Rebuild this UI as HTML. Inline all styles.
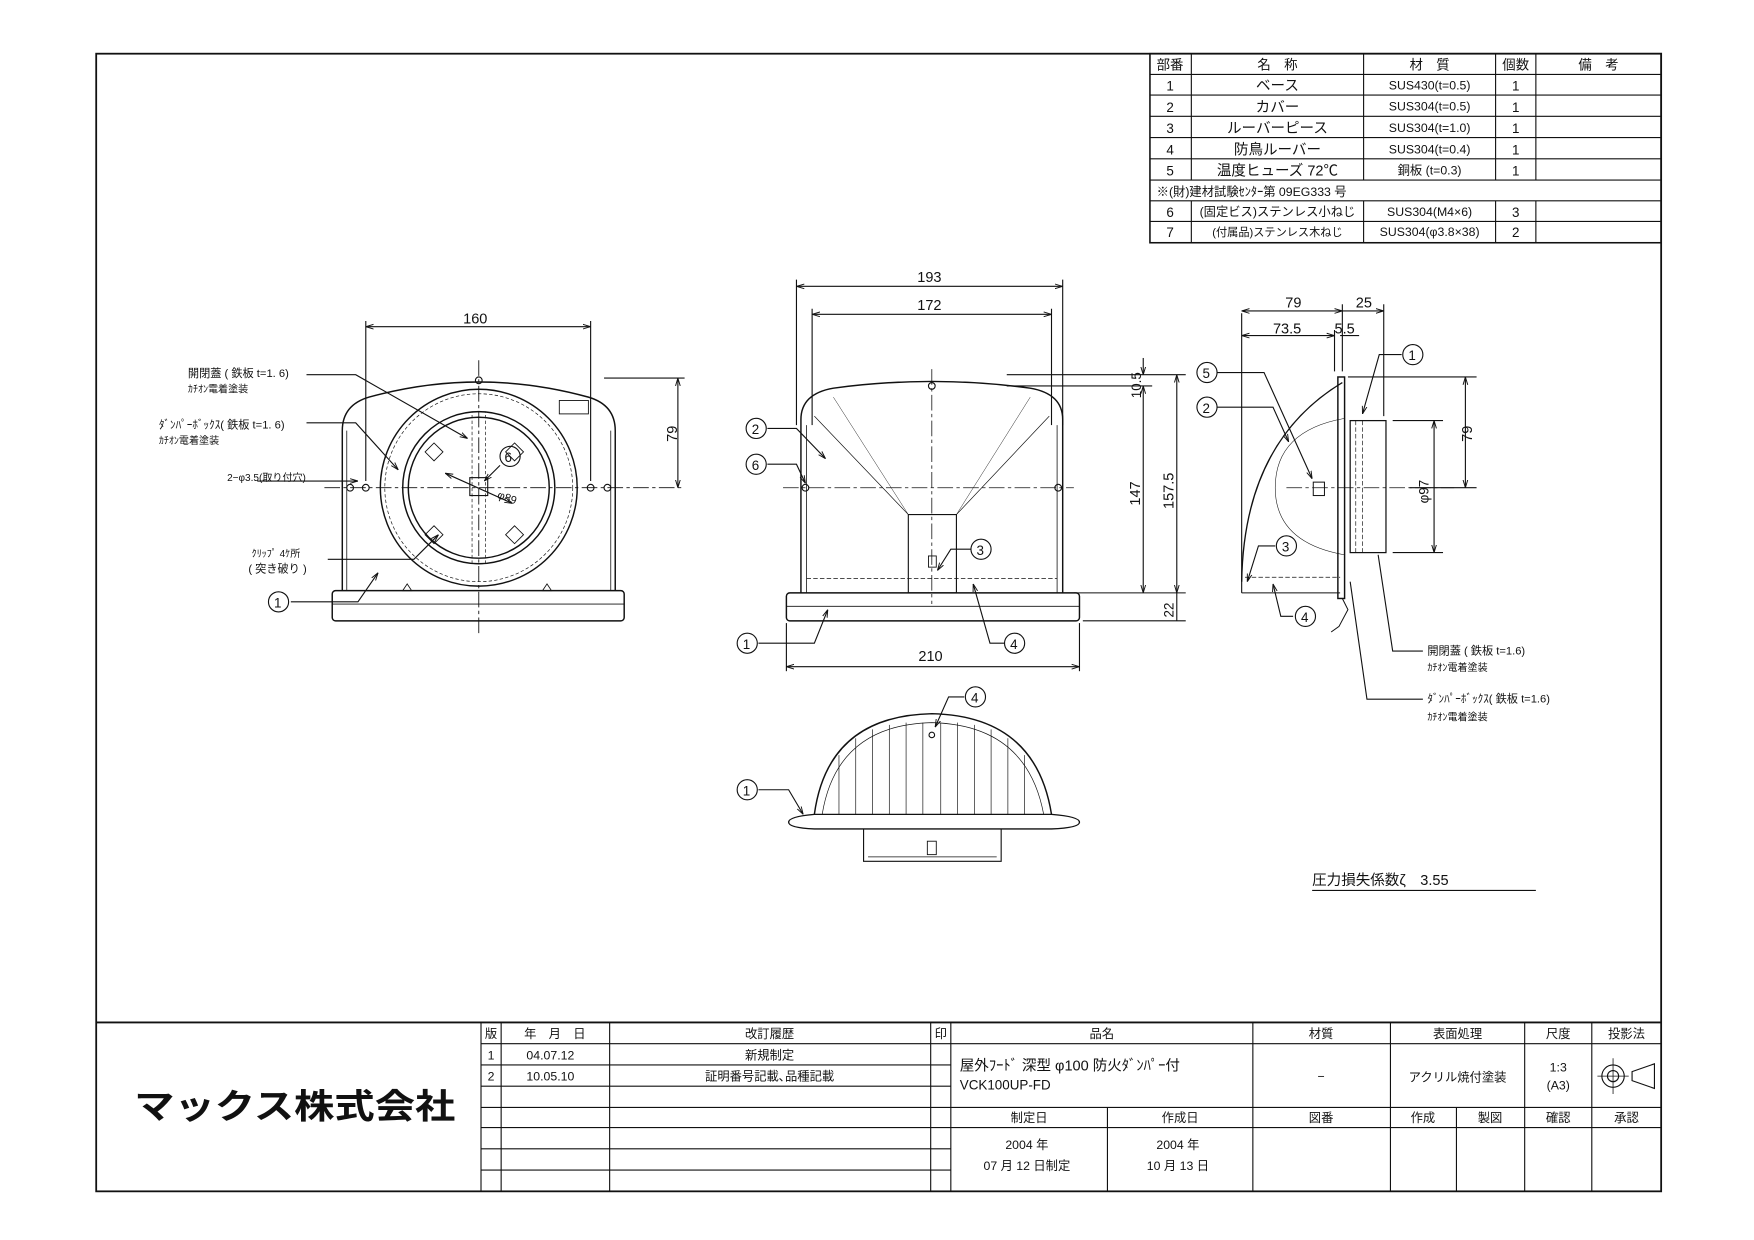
<!DOCTYPE html>
<html><head><meta charset="utf-8"><style>
html,body{margin:0;padding:0;background:#fff;}
svg{display:block;}
text{font-family:"Liberation Sans","Noto Sans CJK JP",sans-serif;fill:#111;}
</style></head><body>
<svg width="1754" height="1240" viewBox="0 0 1568 1108.5" preserveAspectRatio="none" xmlns="http://www.w3.org/2000/svg">
<defs>
<marker id="a" viewBox="0 0 10 10" refX="10" refY="5" markerWidth="7" markerHeight="7" orient="auto-start-reverse"><path d="M0,2 L10,5 L0,8" fill="none" stroke="#111" stroke-width="1.2"/></marker>
</defs>
<g fill="none" stroke="#111">
<rect x="86" y="48" width="1399" height="1017" stroke-width="1.6"/>
<rect x="1028" y="48" width="457" height="169" stroke-width="1.4"/>
<g stroke-width="1">
<line x1="1028" y1="66.5" x2="1485" y2="66.5"/><line x1="1028" y1="85" x2="1485" y2="85"/>
<line x1="1028" y1="104" x2="1485" y2="104"/><line x1="1028" y1="123" x2="1485" y2="123"/>
<line x1="1028" y1="142" x2="1485" y2="142"/><line x1="1028" y1="161" x2="1485" y2="161"/>
<line x1="1028" y1="179.5" x2="1485" y2="179.5"/><line x1="1028" y1="198" x2="1485" y2="198"/>
<line x1="1065" y1="48" x2="1065" y2="161"/><line x1="1219" y1="48" x2="1219" y2="161"/>
<line x1="1337" y1="48" x2="1337" y2="161"/><line x1="1373" y1="48" x2="1373" y2="161"/>
<line x1="1065" y1="179.5" x2="1065" y2="217"/><line x1="1219" y1="179.5" x2="1219" y2="217"/>
<line x1="1337" y1="179.5" x2="1337" y2="217"/><line x1="1373" y1="179.5" x2="1373" y2="217"/>
</g>
<line x1="86" y1="914" x2="1485" y2="914" stroke-width="1.6"/>
<g stroke-width="1">
<line x1="430" y1="914" x2="430" y2="1065"/><line x1="448" y1="914" x2="448" y2="1065"/>
<line x1="545" y1="914" x2="545" y2="1065"/><line x1="832" y1="914" x2="832" y2="1065"/>
<line x1="850" y1="914" x2="850" y2="1065"/>
<line x1="430" y1="933" x2="850" y2="933"/><line x1="430" y1="952" x2="850" y2="952"/>
<line x1="430" y1="971" x2="850" y2="971"/><line x1="430" y1="990" x2="1485" y2="990"/>
<line x1="430" y1="1008" x2="1485" y2="1008"/><line x1="430" y1="1027" x2="850" y2="1027"/>
<line x1="430" y1="1046" x2="850" y2="1046"/>
<line x1="850" y1="933" x2="1485" y2="933"/>
<line x1="1120" y1="914" x2="1120" y2="1065"/><line x1="1243" y1="914" x2="1243" y2="1065"/>
<line x1="1363" y1="914" x2="1363" y2="1065"/><line x1="1423" y1="914" x2="1423" y2="1065"/>
<line x1="990" y1="990" x2="990" y2="1065"/><line x1="1302" y1="990" x2="1302" y2="1065"/>
</g>
<circle cx="1442" cy="962" r="10" stroke-width="1"/><circle cx="1442" cy="962" r="5" stroke-width="1"/>
<line x1="1428" y1="962" x2="1456" y2="962" stroke-width="0.7"/><line x1="1442" y1="946" x2="1442" y2="978" stroke-width="0.7"/>
<path d="M1459,958 L1479,951 L1479,973 L1459,966 Z" stroke-width="1"/>
<line x1="1173" y1="796" x2="1373" y2="796" stroke-width="1"/>
</g>

<!-- LEFT VIEW -->
<g fill="none" stroke="#111" stroke-width="1">
<path d="M306,528 L306,385 Q306,362 330,355 Q428,328 526,355 Q550,362 550,385 L550,528" stroke-width="1.3"/>
<path d="M310,528 L310,385 M546,385 L546,528" stroke-width="0.7"/>
<rect x="297" y="528" width="261" height="27" rx="3" stroke-width="1.3"/>
<line x1="297" y1="540" x2="558" y2="540" stroke-width="0.7"/>
<circle cx="428" cy="436" r="88" stroke-width="1.3"/>
<circle cx="428" cy="436" r="84" stroke-width="0.6" stroke-dasharray="3,2"/>
<circle cx="428" cy="436" r="68" stroke-width="1.3"/>
<circle cx="428" cy="436" r="63" stroke-width="1.3"/>
<rect x="422" y="368" width="12" height="136" stroke-width="0.6" stroke-dasharray="3,2"/>
<rect x="420" y="427" width="16" height="16" stroke-width="1"/>
<path d="M380,404 l8,-8 l8,8 l-8,8z M460,396 l8,8 l-8,8 l-8,-8z M380,478 l8,-8 l8,8 l-8,8z M460,470 l8,8 l-8,8 l-8,-8z" stroke-width="0.8"/>
<rect x="500" y="358" width="26" height="12" stroke-width="0.8"/>
<path d="M360,528 l4,-6 l4,6z M485,528 l4,-6 l4,6z" stroke-width="0.8"/>
<line x1="428" y1="322" x2="428" y2="568" stroke-dasharray="14,3,3,3" stroke-width="0.8"/>
<line x1="290" y1="436" x2="612" y2="436" stroke-dasharray="14,3,3,3" stroke-width="0.8"/>
<circle cx="313" cy="436" r="3"/><circle cx="327" cy="436" r="3"/><circle cx="528" cy="436" r="3"/><circle cx="543" cy="436" r="3"/>
<circle cx="428" cy="340" r="3"/>
<line x1="327" y1="287" x2="327" y2="430"/><line x1="528" y1="287" x2="528" y2="430"/>
<line x1="327" y1="292" x2="528" y2="292" marker-start="url(#a)" marker-end="url(#a)"/>
<line x1="540" y1="338" x2="612" y2="338"/>
<line x1="606" y1="338" x2="606" y2="436" marker-start="url(#a)" marker-end="url(#a)"/>
<line x1="398" y1="423" x2="458" y2="450" marker-start="url(#a)" marker-end="url(#a)"/>
<path d="M274,335 L318,335 L418,392" marker-end="url(#a)"/>
<path d="M274,378 L318,378 L356,420" marker-end="url(#a)"/>
<path d="M230,430 L320,430" marker-end="url(#a)"/>
<path d="M293,500 L370,500 L392,478" marker-end="url(#a)"/>
<path d="M260,538 L320,538 L338,512" marker-end="url(#a)"/>
<path d="M447,416 L433,430" marker-end="url(#a)"/>
<circle cx="456" cy="408" r="9"/><circle cx="249" cy="538" r="9"/>
</g>
<g font-size="10">
<text x="168" y="337">開閉蓋 ( 鉄板 t=1. 6)</text>
<text x="168" y="351" font-size="9">ｶﾁｵﾝ電着塗装</text>
<text x="142" y="383">ﾀﾞﾝﾊﾟｰﾎﾞｯｸｽ( 鉄板 t=1. 6)</text>
<text x="142" y="397" font-size="9">ｶﾁｵﾝ電着塗装</text>
<text x="203" y="430" font-size="9">2−φ3.5(取り付穴)</text>
<text x="225" y="498" font-size="9">ｸﾘｯﾌﾟ 4ｹ所</text>
<text x="222" y="512">( 突き破り )</text>
<text x="451" y="413" font-size="12">6</text><text x="245" y="543" font-size="12">1</text>
<text x="444" y="445" font-size="10" transform="rotate(20 444 445)">φ89</text>
<text x="414" y="289" font-size="13">160</text>
<text x="605" y="395" font-size="13" transform="rotate(-90 605 395)">79</text>
</g>

<!-- MIDDLE VIEW -->
<g fill="none" stroke="#111" stroke-width="1">
<path d="M716,530 L716,375 Q716,352 745,347 Q833,335 921,347 Q950,352 950,375 L950,530" stroke-width="1.3"/>
<path d="M721,380 L721,530 M945,380 L945,530" stroke-width="0.7"/>
<rect x="703" y="530" width="262" height="25" rx="3" stroke-width="1.3"/>
<line x1="703" y1="542" x2="965" y2="542" stroke-width="0.7"/>
<path d="M728,372 L812,460 M938,372 L855,460" stroke-width="0.6"/>
<path d="M745,355 L812,460 M921,355 L855,460" stroke-width="0.4"/>
<rect x="812" y="460" width="43" height="70" stroke-width="1"/>
<line x1="721" y1="517" x2="945" y2="517" stroke-dasharray="4,2" stroke-width="0.7"/>
<line x1="833" y1="330" x2="833" y2="540" stroke-dasharray="14,3,3,3" stroke-width="0.7"/>
<line x1="700" y1="436" x2="960" y2="436" stroke-dasharray="14,3,3,3" stroke-width="0.7"/>
<circle cx="720" cy="436" r="3"/><circle cx="946" cy="436" r="3"/><circle cx="833" cy="345" r="3"/>
<rect x="830" y="497" width="7" height="10" stroke-width="0.8"/>
<line x1="712" y1="250" x2="712" y2="380"/><line x1="950" y1="250" x2="950" y2="380"/>
<line x1="712" y1="256" x2="950" y2="256" marker-start="url(#a)" marker-end="url(#a)"/>
<line x1="726" y1="276" x2="726" y2="380"/><line x1="940" y1="276" x2="940" y2="380"/>
<line x1="726" y1="281" x2="940" y2="281" marker-start="url(#a)" marker-end="url(#a)"/>
<line x1="703" y1="557" x2="703" y2="600"/><line x1="965" y1="557" x2="965" y2="600"/>
<line x1="703" y1="596" x2="965" y2="596" marker-start="url(#a)" marker-end="url(#a)"/>
<line x1="900" y1="335" x2="1060" y2="335"/><line x1="900" y1="345" x2="1030" y2="345"/>
<line x1="960" y1="530" x2="1060" y2="530"/><line x1="968" y1="555" x2="1060" y2="555"/>
<line x1="1022" y1="345" x2="1022" y2="530" marker-start="url(#a)" marker-end="url(#a)"/>
<line x1="1052" y1="335" x2="1052" y2="530" marker-start="url(#a)" marker-end="url(#a)"/>
<line x1="1052" y1="530" x2="1052" y2="555"/>
<line x1="1022" y1="320" x2="1022" y2="335" marker-end="url(#a)"/>
<path d="M686,383 L712,383 L738,410" marker-end="url(#a)"/>
<path d="M686,415 L712,415 L720,432" marker-end="url(#a)"/>
<path d="M868,491 L850,491 L838,510" marker-end="url(#a)"/>
<path d="M898,575 L885,575 L870,522" marker-end="url(#a)"/>
<path d="M678,575 L728,575 L740,545" marker-end="url(#a)"/>
<circle cx="676" cy="383" r="9"/><circle cx="676" cy="415" r="9"/><circle cx="877" cy="491" r="9"/><circle cx="907" cy="575" r="9"/><circle cx="668" cy="575" r="9"/>
</g>
<g font-size="12">
<text x="672" y="388">2</text><text x="672" y="420">6</text><text x="873" y="496">3</text><text x="903" y="580">4</text><text x="664" y="580">1</text>
<text x="820" y="252" font-size="13">193</text><text x="820" y="277" font-size="13">172</text><text x="821" y="591" font-size="13">210</text>
<text x="1020" y="356" font-size="12" transform="rotate(-90 1020 356)">10.5</text>
<text x="1019" y="452" font-size="13" transform="rotate(-90 1019 452)">147</text>
<text x="1049" y="455" font-size="13" transform="rotate(-90 1049 455)">157.5</text>
<text x="1049" y="552" font-size="12" transform="rotate(-90 1049 552)">22</text>
</g>

<!-- RIGHT VIEW -->
<g fill="none" stroke="#111" stroke-width="1">
<path d="M1110,520 Q1112,395 1200,342" stroke-width="1.2"/>
<line x1="1110" y1="280" x2="1110" y2="530"/>
<line x1="1110" y1="530" x2="1198" y2="530"/>
<rect x="1196" y="337" width="6" height="198" stroke-width="1.3"/>
<line x1="1202" y1="350" x2="1202" y2="530" stroke-width="0.6"/>
<rect x="1207" y="376" width="32" height="118" stroke-width="1.1"/>
<path d="M1212,376 L1212,494 M1218,376 L1218,494" stroke-dasharray="4,2" stroke-width="0.6"/>
<path d="M1202,374 Q1140,385 1140,436 Q1140,485 1202,496" stroke-width="0.5"/>
<line x1="1113" y1="516" x2="1198" y2="516" stroke-dasharray="4,2" stroke-width="0.7"/>
<path d="M1200,535 L1205,545 L1197,560 L1190,565" stroke-width="0.9"/>
<rect x="1174" y="431" width="10" height="12" stroke-width="0.9"/>
<line x1="1150" y1="436" x2="1300" y2="436" stroke-dasharray="14,3,3,3" stroke-width="0.7"/>
<line x1="1110" y1="278" x2="1200" y2="278" marker-start="url(#a)" marker-end="url(#a)"/>
<line x1="1200" y1="278" x2="1237" y2="278" marker-end="url(#a)"/>
<line x1="1237" y1="272" x2="1237" y2="372"/><line x1="1200" y1="272" x2="1200" y2="332"/>
<line x1="1110" y1="300" x2="1193" y2="300" marker-start="url(#a)" marker-end="url(#a)"/>
<line x1="1193" y1="295" x2="1193" y2="332"/>
<line x1="1198" y1="300" x2="1215" y2="300"/>
<line x1="1205" y1="337" x2="1320" y2="337"/><line x1="1245" y1="376" x2="1290" y2="376"/>
<line x1="1245" y1="494" x2="1290" y2="494"/><line x1="1260" y1="436" x2="1320" y2="436"/>
<line x1="1310" y1="337" x2="1310" y2="436" marker-start="url(#a)" marker-end="url(#a)"/>
<line x1="1282" y1="376" x2="1282" y2="494" marker-start="url(#a)" marker-end="url(#a)"/>
<path d="M1088,333 L1130,333 L1173,428" marker-end="url(#a)"/>
<path d="M1088,364 L1138,364 L1152,395" marker-end="url(#a)"/>
<path d="M1253,317 L1233,317 L1218,370" marker-end="url(#a)"/>
<path d="M1140,488 L1125,488 L1115,520" marker-end="url(#a)"/>
<path d="M1156,551 L1145,551 L1138,522" marker-end="url(#a)"/>
<path d="M1232,496 L1245,582 L1272,582"/>
<path d="M1207,520 L1222,625 L1272,625"/>
<circle cx="1079" cy="333" r="9"/><circle cx="1079" cy="364" r="9"/><circle cx="1263" cy="317" r="9"/><circle cx="1150" cy="488" r="9"/><circle cx="1167" cy="551" r="9"/>
</g>
<g font-size="12">
<text x="1075" y="338">5</text><text x="1075" y="369">2</text><text x="1259" y="322">1</text><text x="1146" y="493">3</text><text x="1163" y="556">4</text>
<text x="1149" y="275" font-size="13">79</text><text x="1212" y="275" font-size="13">25</text>
<text x="1138" y="298" font-size="13">73.5</text><text x="1193" y="298" font-size="13">5.5</text>
<text x="1316" y="395" font-size="13" transform="rotate(-90 1316 395)">79</text>
<text x="1277" y="450" font-size="12" transform="rotate(-90 1277 450)">φ97</text>
<text x="1276" y="585" font-size="10">開閉蓋 ( 鉄板 t=1.6)</text>
<text x="1276" y="600" font-size="9">ｶﾁｵﾝ電着塗装</text>
<text x="1276" y="628" font-size="10">ﾀﾞﾝﾊﾟｰﾎﾞｯｸｽ( 鉄板 t=1.6)</text>
<text x="1276" y="644" font-size="9">ｶﾁｵﾝ電着塗装</text>
</g>

<!-- BOTTOM VIEW -->
<g fill="none" stroke="#111" stroke-width="1">
<path d="M728,728 Q740,640 833,638 Q926,640 940,728" stroke-width="1.3"/>
<path d="M735,728 Q748,648 833,646 Q918,648 933,728" stroke-width="0.6"/>
<path d="M705,735 Q705,730 728,728 L940,728 Q965,730 965,735 Q965,740 940,741 L728,741 Q705,740 705,735 Z" stroke-width="1.2"/>
<g stroke-width="0.6">
<line x1="750" y1="675" x2="750" y2="728"/><line x1="765" y1="660" x2="765" y2="728"/><line x1="780" y1="652" x2="780" y2="728"/>
<line x1="795" y1="648" x2="795" y2="728"/><line x1="810" y1="646" x2="810" y2="728"/><line x1="825" y1="646" x2="825" y2="728"/>
<line x1="841" y1="646" x2="841" y2="728"/><line x1="856" y1="646" x2="856" y2="728"/><line x1="871" y1="648" x2="871" y2="728"/>
<line x1="886" y1="652" x2="886" y2="728"/><line x1="901" y1="660" x2="901" y2="728"/><line x1="916" y1="675" x2="916" y2="728"/>
</g>
<path d="M772,741 L772,770 L895,770 L895,741" stroke-width="1"/>
<line x1="776" y1="766" x2="891" y2="766" stroke-width="0.6"/>
<rect x="829" y="752" width="8" height="12" stroke-width="0.8"/>
<circle cx="833" cy="657" r="2.5"/>
<path d="M862,623 L848,623 L836,650" marker-end="url(#a)"/>
<path d="M678,706 L705,706 L718,728" marker-end="url(#a)"/>
<circle cx="872" cy="623" r="9"/><circle cx="668" cy="706" r="9"/>
</g>
<g font-size="12"><text x="868" y="628">4</text><text x="664" y="711">1</text></g>

<text x="1173" y="791" font-size="13">圧力損失係数ζ　3.55</text>

<g font-size="12" text-anchor="middle">
<text x="1046" y="62">部番</text><text x="1142" y="62">名　称</text><text x="1278" y="62">材　質</text><text x="1355" y="62">個数</text><text x="1429" y="62">備　考</text>
<text x="1046" y="81">1</text><text x="1142" y="81" font-size="13">ベース</text><text x="1278" y="80" font-size="11">SUS430(t=0.5)</text><text x="1355" y="81">1</text>
<text x="1046" y="100">2</text><text x="1142" y="100" font-size="13">カバー</text><text x="1278" y="99" font-size="11">SUS304(t=0.5)</text><text x="1355" y="100">1</text>
<text x="1046" y="119">3</text><text x="1142" y="119" font-size="13">ルーバーピース</text><text x="1278" y="118" font-size="11">SUS304(t=1.0)</text><text x="1355" y="119">1</text>
<text x="1046" y="138">4</text><text x="1142" y="138" font-size="13">防鳥ルーバー</text><text x="1278" y="137" font-size="11">SUS304(t=0.4)</text><text x="1355" y="138">1</text>
<text x="1046" y="157">5</text><text x="1142" y="157" font-size="13">温度ヒューズ 72℃</text><text x="1278" y="156" font-size="11">銅板 (t=0.3)</text><text x="1355" y="157">1</text>
<text x="1046" y="194">6</text><text x="1142" y="193" font-size="11">(固定ビス)ステンレス小ねじ</text><text x="1278" y="193" font-size="11">SUS304(M4×6)</text><text x="1355" y="194">3</text>
<text x="1046" y="212">7</text><text x="1142" y="211" font-size="10">(付属品)ステンレス木ねじ</text><text x="1278" y="211" font-size="11">SUS304(φ3.8×38)</text><text x="1355" y="212">2</text>
</g>
<text x="1034" y="175" font-size="11">※(財)建材試験ｾﾝﾀｰ第 09EG333 号</text>

<text x="120" y="1000" font-size="31" font-weight="bold" textLength="287" lengthAdjust="spacingAndGlyphs">マックス株式会社</text>
<g font-size="11" text-anchor="middle">
<text x="439" y="928">版</text><text x="496" y="928">年　月　日</text><text x="688" y="928">改訂履歴</text><text x="841" y="928">印</text>
<text x="985" y="928">品名</text><text x="1181" y="928">材質</text><text x="1303" y="928">表面処理</text><text x="1393" y="928">尺度</text><text x="1454" y="928">投影法</text>
<text x="439" y="947">1</text><text x="492" y="947">04.07.12</text><text x="688" y="947">新規制定</text>
<text x="439" y="966">2</text><text x="492" y="966">10.05.10</text><text x="688" y="966">証明番号記載､品種記載</text>
<text x="1181" y="966">−</text><text x="1303" y="967">アクリル焼付塗装</text><text x="1393" y="958">1:3</text><text x="1393" y="974">(A3)</text>
<text x="920" y="1003">制定日</text><text x="1055" y="1003">作成日</text><text x="1181" y="1003">図番</text><text x="1272" y="1003">作成</text><text x="1332" y="1003">製図</text><text x="1393" y="1003">確認</text><text x="1454" y="1003">承認</text>
<text x="918" y="1027">2004 年</text><text x="918" y="1046">07 月 12 日制定</text>
<text x="1053" y="1027">2004 年</text><text x="1053" y="1046">10 月 13 日</text>
</g>
<text x="858" y="957" font-size="13">屋外ﾌｰﾄﾞ 深型 φ100 防火ﾀﾞﾝﾊﾟｰ付</text>
<text x="858" y="974" font-size="12">VCK100UP-FD</text>
</svg>
</body></html>
